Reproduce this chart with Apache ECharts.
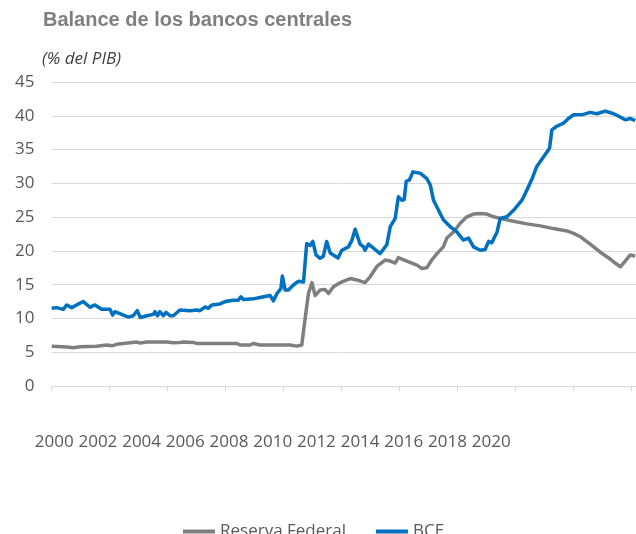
<!DOCTYPE html>
<html><head><meta charset="utf-8">
<script src="https://cdn.jsdelivr.net/npm/echarts@6/dist/echarts.min.js"></script>
<style>html,body{margin:0;padding:0;background:#fff}#c{width:636px;height:534px}</style>
</head><body><div id="c"></div>
<script>
const yearLabels = ['2000','2002','2004','2006','2008','2010','2012','2014','2016','2018','2020'];
const tickYears = [2000,2002,2004,2006,2008,2010,2012,2014,2016,2018,2020];

const fedYears = [2000.01,2000.53,2000.76,2000.99,2001.56,2001.91,2002.09,2002.25,2002.94,2003.06,2003.29,2003.98,2004.20,2004.43,2004.55,2004.89,2005.01,2006.39,2006.50,2006.85,2006.96,2007.19,2008.23,2008.46,2008.63,2008.74,2008.86,2008.98,2009.09,2009.26,2009.43,2009.55,2009.72,2009.95,2010.30,2010.53,2010.81,2010.99,2011.22,2011.50,2011.68,2011.85,2011.96,2012.19,2012.42,2012.60,2012.77,2012.94,2013.11,2013.29,2013.51,2013.63,2013.86,2014.09,2014.32,2014.55,2014.78,2015.01,2015.24,2015.58,2015.93,2016.39,2016.85,2017.31,2017.77,2018.00,2018.23,2018.57,2018.92,2019.26,2019.43,2019.61,2019.78,2019.95,2020.12];
const fedValues = [5.9,5.77,5.67,5.8,5.9,6.07,5.95,6.17,6.5,6.35,6.5,6.5,6.4,6.45,6.5,6.45,6.3,6.3,6.07,6.07,6.3,6.07,6.07,5.9,6.07,9.8,13.7,15.3,13.4,14.2,14.3,13.7,14.7,15.3,15.9,15.7,15.3,16.2,17.7,18.65,18.5,18.2,19.0,18.6,18.2,17.9,17.4,17.5,18.65,19.6,20.6,21.9,22.8,24.1,25.05,25.45,25.55,25.45,25.05,24.7,24.4,24.0,23.7,23.3,22.95,22.6,22.1,21.0,19.8,18.8,18.2,17.65,18.5,19.4,19.25];

const bceYears = [2000.01,2000.18,2000.41,2000.53,2000.70,2000.87,2001.10,2001.33,2001.50,2001.73,2002.02,2002.11,2002.19,2002.42,2002.65,2002.82,2002.96,2003.06,2003.29,2003.51,2003.57,2003.66,2003.74,2003.86,2003.95,2004.09,2004.20,2004.43,2004.78,2005.01,2005.12,2005.30,2005.41,2005.53,2005.81,2005.99,2006.27,2006.44,2006.53,2006.62,2006.96,2007.19,2007.54,2007.65,2007.79,2007.91,2007.96,2008.06,2008.17,2008.34,2008.51,2008.69,2008.80,2008.92,2009.01,2009.12,2009.26,2009.37,2009.49,2009.61,2009.88,2010.01,2010.24,2010.36,2010.47,2010.64,2010.76,2010.81,2010.93,2011.10,2011.33,2011.56,2011.68,2011.85,2011.96,2012.08,2012.16,2012.23,2012.34,2012.46,2012.71,2012.94,2013.06,2013.17,2013.34,2013.51,2013.74,2013.98,2014.20,2014.38,2014.55,2014.78,2014.95,2015.07,2015.18,2015.36,2015.47,2015.70,2015.93,2016.22,2016.39,2016.56,2016.73,2016.96,2017.17,2017.25,2017.42,2017.65,2017.82,2018.00,2018.34,2018.57,2018.80,2019.09,2019.38,2019.57,2019.78,2019.95,2020.12];
const bceValues = [11.5,11.6,11.35,12.0,11.6,12.0,12.5,11.65,12.0,11.35,11.35,10.5,11.0,10.6,10.2,10.4,11.15,10.15,10.4,10.6,11.0,10.4,11.0,10.4,10.9,10.4,10.4,11.25,11.15,11.25,11.15,11.7,11.5,12.0,12.15,12.5,12.7,12.7,13.2,12.8,12.9,13.1,13.4,12.6,13.8,14.4,16.3,14.2,14.2,14.95,15.5,15.4,21.1,20.8,21.4,19.4,18.9,19.2,21.4,19.7,18.95,20.1,20.6,21.6,23.2,21.0,20.6,20.1,21.0,20.4,19.6,20.9,23.6,24.8,28.0,27.5,27.6,30.3,30.5,31.7,31.5,30.7,29.75,27.5,26.05,24.6,23.6,22.8,21.6,21.9,20.6,20.1,20.2,21.4,21.2,22.8,24.8,25.05,26.0,27.5,29.0,30.6,32.5,33.9,35.2,37.9,38.45,38.9,39.6,40.15,40.2,40.5,40.3,40.7,40.3,39.9,39.4,39.6,39.3];

const zip = (xs, ys) => xs.map((x, i) => [x, ys[i]]);
const FONT = 'Open Sans';
const chart = echarts.init(document.getElementById('c'), null, {renderer: 'canvas'});
chart.setOption({
  animation: false,
  backgroundColor: '#fff',
  title: [
    {text: 'Balance de los bancos centrales', left: 43, top: 10, padding: 0,
     textStyle: {fontFamily: 'Liberation Sans', fontWeight: 'bold', fontSize: 20, color: '#7f7f7f'}},
    {text: '(% del PIB)', left: 42, top: 51, padding: 0,
     textStyle: {fontFamily: FONT, fontStyle: 'italic', fontWeight: 'normal', fontSize: 17, color: '#404040'}}
  ],
  legend: {
    data: ['Reserva Federal', 'BCE'], left: 183, top: 523, padding: 0,
    icon: 'rect', itemWidth: 32, itemHeight: 4, itemGap: 30,
    textStyle: {fontFamily: FONT, fontSize: 17, color: '#595959'}
  },
  grid: [
    {left: 51.4, right: 0, top: 82, height: 304},
    {left: 32.35, width: 480.7, top: 82, height: 304}
  ],
  xAxis: [
    {gridIndex: 0, type: 'value', min: 2000, max: 2020.15, interval: 2,
     axisLine: {show: true, lineStyle: {color: '#d9d9d9', width: 1}},
     axisTick: {show: true, length: 5, customValues: tickYears, lineStyle: {color: '#d9d9d9'}},
     axisLabel: {show: false}, splitLine: {show: false}},
    {gridIndex: 1, type: 'category', data: yearLabels, boundaryGap: true,
     axisLine: {show: false}, axisTick: {show: false}, splitLine: {show: false},
     axisLabel: {interval: 0, fontFamily: FONT, fontSize: 17, color: '#595959', margin: 48}}
  ],
  yAxis: [
    {gridIndex: 0, type: 'value', min: 0, max: 45, interval: 5,
     axisLine: {show: false}, axisTick: {show: false},
     axisLabel: {fontFamily: FONT, fontSize: 17, color: '#595959', margin: 17},
     splitLine: {lineStyle: {color: '#d9d9d9', width: 1}}},
    {gridIndex: 1, type: 'value', show: false}
  ],
  series: [
    {name: 'Reserva Federal', type: 'line', xAxisIndex: 0, yAxisIndex: 0,
     data: zip(fedYears, fedValues), symbol: 'none', showSymbol: false,
     lineStyle: {width: 3.5, color: '#7f7f7f', join: 'round'}, itemStyle: {color: '#7f7f7f'}},
    {name: 'BCE', type: 'line', xAxisIndex: 0, yAxisIndex: 0,
     data: zip(bceYears, bceValues), symbol: 'none', showSymbol: false,
     lineStyle: {width: 3.5, color: '#0070c0', join: 'round'}, itemStyle: {color: '#0070c0'}}
  ]
});
</script></body></html>
